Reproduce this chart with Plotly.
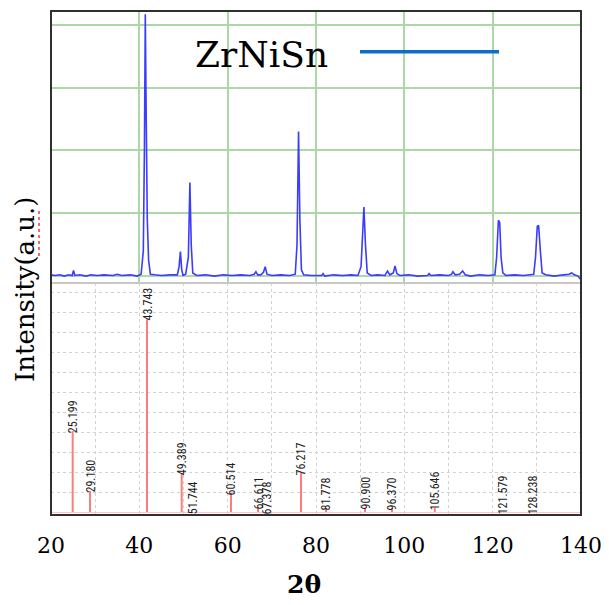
import plotly.graph_objects as go
from plotly.subplots import make_subplots

# ---------------- data ----------------
# measured XRD pattern (2theta, intensity a.u.) read from the picture
two_theta = [20.0, 21.0, 22.0, 23.0, 24.0, 24.8, 25.1, 25.4, 26.5, 28.0, 29.0, 30.5, 32.0, 34.0,
             35.0, 36.0, 38.0, 39.5, 40.4, 40.9, 41.15, 41.35, 41.55, 41.8, 42.1, 42.5, 43.5,
             45.0, 47.0, 48.6, 49.0, 49.3, 49.6, 49.9, 50.5, 51.1, 51.45, 51.75, 52.1, 53.0,
             55.0, 57.0, 59.0, 61.0, 63.0, 65.0, 66.0, 66.4, 66.8, 67.5, 68.1, 68.5, 68.9,
             70.0, 72.0, 74.0, 75.3, 75.7, 76.05, 76.35, 76.7, 77.2, 79.0, 81.3, 81.6, 82.0,
             84.0, 86.0, 88.0, 89.5, 90.2, 90.6, 90.85, 91.2, 91.6, 92.5, 94.0, 95.6, 96.2,
             96.7, 97.5, 97.9, 98.3, 99.0, 101.0, 103.0, 105.3, 105.6, 106.0, 108.0, 110.0,
             110.7, 111.0, 111.5, 112.5, 113.2, 113.8, 115.0, 117.0, 119.0, 120.5, 120.9,
             121.3, 121.6, 121.9, 122.3, 123.0, 125.0, 127.0, 129.3, 129.7, 130.1, 130.4,
             130.8, 131.2, 132.0, 134.0, 136.0, 137.3, 137.9, 138.5, 139.3, 140.0]
intensity = [0.02, 0.01, 0.02, 0.0, 0.02, 0.01, 0.09, 0.01, 0.02, 0.0, 0.02, 0.01, 0.02, 0.01,
             0.03, 0.01, 0.02, 0.0, 0.03, 0.4, 2.0, 4.17, 2.6, 0.9, 0.25, 0.03, 0.02,
             0.01, 0.02, 0.02, 0.15, 0.39, 0.1, 0.01, 0.03, 0.3, 1.49, 0.5, 0.05, 0.01,
             0.02, 0.0, 0.02, 0.01, 0.02, 0.01, 0.03, 0.07, 0.02, 0.02, 0.06, 0.15, 0.03,
             0.01, 0.02, 0.01, 0.03, 0.5, 2.3, 0.9, 0.1, 0.02, 0.01, 0.01, 0.04, 0.0,
             0.02, 0.01, 0.02, 0.01, 0.15, 0.7, 1.1, 0.5, 0.05, 0.01, 0.02, 0.01, 0.08,
             0.02, 0.05, 0.16, 0.04, 0.01, 0.02, 0.0, 0.01, 0.04, 0.01, 0.02, 0.01,
             0.03, 0.07, 0.02, 0.03, 0.08, 0.02, 0.0, 0.02, 0.01, 0.02, 0.3,
             0.89, 0.85, 0.3, 0.05, 0.01, 0.02, 0.01, 0.03, 0.3, 0.79, 0.81,
             0.4, 0.05, 0.02, 0.0, 0.02, 0.03, 0.05, 0.02, 0.0, -0.06]

# reference stick pattern: drawn positions, relative heights, labels
stick_pos = [24.91, 28.83, 41.74, 49.59, 52.1, 60.75, 66.87, 68.9, 76.6, 82.26,
             91.1, 97.2, 106.9, 122.3, 129.1]
stick_height = [4.05, 1.05, 9.65, 1.95, 0.0, 0.95, 0.2, 0.0, 1.95, 0.2,
                0.2, 0.2, 0.2, 0.0, 0.0]
stick_labels = ["25.199", "29.180", "43.743", "49.389", "51.744", "60.514", "66.611",
                "67.378", "76.217", "81.778", "90.900", "96.370", "105.646", "121.579",
                "128.238"]

x_ticks = [20, 40, 60, 80, 100, 120, 140]
legend_name = "ZrNiSn"

# ---------------- figure ----------------
# the page body has an 8px margin: plot area lands at screen x 51-581, y 11-515
PW, PH = 530.0, 504.0
split = (515 - 283) / PH
fig = make_subplots(rows=2, cols=1, shared_xaxes=True, vertical_spacing=0,
                    row_heights=[1 - split, split])

fig.add_trace(go.Scatter(x=two_theta, y=intensity, mode="lines",
                         line=dict(color="#3c3cff", width=1.6),
                         showlegend=False, hoverinfo="skip"), row=1, col=1)

sx, sy = [], []
for p, h in zip(stick_pos, stick_height):
    sx += [p, p, None]
    sy += [0, h, None]
fig.add_trace(go.Scatter(x=sx, y=sy, mode="lines",
                         line=dict(color="#ff7c7c", width=2),
                         showlegend=False, hoverinfo="skip"), row=2, col=1)

green = "#acd8a6"
grey = "#d2d2d2"
fig.update_xaxes(range=[20, 140], row=1, col=1, showticklabels=False,
                 dtick=20, tick0=20, showgrid=True, gridcolor=green, gridwidth=2,
                 zeroline=False, showline=False, automargin=False)
fig.update_xaxes(range=[20, 140], row=2, col=1, tickmode="array", tickvals=x_ticks,
                 ticktext=[str(t) for t in x_ticks],
                 ticks="outside", ticklen=11, tickcolor="rgba(0,0,0,0)",
                 tickfont=dict(family="DejaVu Serif", size=22, color="black"),
                 showgrid=True, gridcolor=grey, gridwidth=1, griddash="dot",
                 minor=dict(dtick=10, tick0=20, showgrid=True, gridcolor=grey,
                            griddash="dot", gridwidth=1),
                 zeroline=False, showline=False, automargin=False)
fig.update_yaxes(range=[-0.11, 4.22], row=1, col=1, dtick=1, tick0=0,
                 showticklabels=False, showgrid=True, gridcolor=green, gridwidth=2,
                 zeroline=False, showline=False, automargin=False)
fig.update_yaxes(range=[-0.15, 11.45], row=2, col=1, dtick=1, tick0=0,
                 showticklabels=False, showgrid=True, gridcolor=grey, gridwidth=1,
                 griddash="dot", zeroline=True, zerolinecolor="#ffc4c4", zerolinewidth=1,
                 showline=False, automargin=False)

annotations = []
for p, h, t in zip(stick_pos, stick_height, stick_labels):
    annotations.append(dict(x=p, y=h, xref="x2", yref="y2", text=t, showarrow=False,
                            textangle=-90, xanchor="center", yanchor="bottom", yshift=-4,
                            font=dict(family="Liberation Sans Narrow, Roboto Condensed, Liberation Sans",
                                      size=12, color="#1e1e1e")))

annotations.append(dict(x=(261 - 51) / PW, y=(515 - 54) / PH, xref="paper", yref="paper",
                        text=legend_name, showarrow=False, xanchor="center", yanchor="middle",
                        font=dict(family="DejaVu Serif", size=36, color="black")))
annotations.append(dict(x=(25 - 51) / PW, y=(515 - 290) / PH, xref="paper", yref="paper",
                        text="Intensity(a.u.)", showarrow=False, textangle=-90,
                        xanchor="center", yanchor="middle",
                        font=dict(family="DejaVu Serif", size=26, color="black")))
annotations.append(dict(x=(304 - 51) / PW, y=(515 - 584) / PH, xref="paper", yref="paper",
                        text="<b>2θ</b>", showarrow=False, xanchor="center", yanchor="middle",
                        font=dict(family="DejaVu Serif", size=25, color="black")))

shapes = [
    # legend line sample
    dict(type="line", xref="paper", yref="paper", x0=(360 - 51) / PW, x1=(499 - 51) / PW,
         y0=(515 - 51.7) / PH, y1=(515 - 51.7) / PH, line=dict(color="#0d6ec4", width=3.5)),
    # divider between panels
    dict(type="line", xref="paper", yref="paper", x0=0, x1=1, y0=split, y1=split,
         line=dict(color="#c8c8c8", width=2)),
    # frame
    dict(type="rect", xref="paper", yref="paper", x0=0, x1=1, y0=0, y1=1,
         line=dict(color="#303030", width=2)),
    # spell-check squiggle under a.u.
    dict(type="line", xref="paper", yref="paper", x0=(39 - 51) / PW, x1=(39 - 51) / PW,
         y0=(515 - 256) / PH, y1=(515 - 210) / PH,
         line=dict(color="#ff3030", width=1.5, dash="dot")),
]

fig.update_layout(width=601, height=597, margin=dict(l=43, r=28, t=3, b=90),
                  paper_bgcolor="white", plot_bgcolor="white",
                  annotations=annotations, shapes=shapes, showlegend=False)

fig.write_html("out.html")
